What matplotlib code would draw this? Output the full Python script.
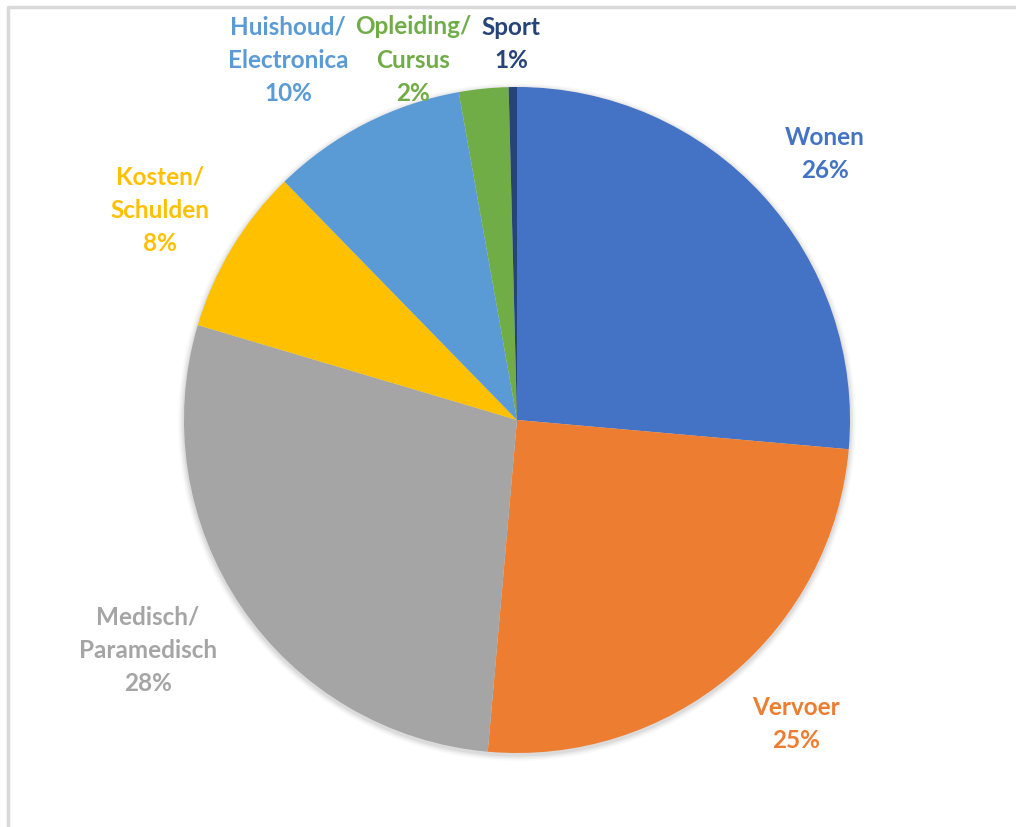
import matplotlib.pyplot as plt
from matplotlib.patches import Circle

# --- data ---
categories = ["Wonen", "Vervoer", "Medisch/\nParamedisch", "Kosten/\nSchulden",
              "Huishoud/\nElectronica", "Opleiding/\nCursus", "Sport"]
shares = [26.4, 25.0, 28.2, 8.1, 9.5, 2.4, 0.4]
pct_labels = ["26%", "25%", "28%", "8%", "10%", "2%", "1%"]
colors = ["#4472C4", "#ED7D31", "#A5A5A5", "#FFC000", "#5B9BD5", "#70AD47", "#264478"]

# label centres in pixel space (x right, y down from top)
label_pos = [(825, 154), (796, 724), (148, 650), (160, 210), (288, 60), (413, 60), (511, 44)]

W, H = 1016, 827
CX, CY, R = 517, 420, 333

fig = plt.figure(figsize=(W / 100, H / 100), dpi=100)
ax = fig.add_axes([0, 0, 1, 1])

# outer chart border (top and left visible)
ax.plot([7.5, 7.5, W + 10], [-10, H - 6.5, H - 6.5], color="#D9D9D9", lw=2.5, zorder=1)

# soft shadow behind the pie
for i, a in enumerate([0.05, 0.04, 0.03, 0.02]):
    ax.add_patch(Circle((CX, H - CY - 2), R + 1.5 + i * 1.5, color="black", alpha=a, lw=0, zorder=2))

ax.pie(shares, colors=colors, startangle=90, counterclock=False, radius=R,
       center=(CX, H - CY), frame=True,
       wedgeprops=dict(linewidth=0, zorder=3))
ax.set_xlim(0, W)
ax.set_ylim(0, H)
ax.set_aspect("equal")
ax.axis("off")

for name, pct, col, (x, y) in zip(categories, pct_labels, colors, label_pos):
    ax.text(x, H - y, f"{name}\n{pct}", ha="center", va="center", color=col,
            fontsize=17.5, fontweight="bold", family=["Lato", "DejaVu Sans"],
            linespacing=1.55, zorder=5)

fig.savefig("out.png", dpi=100)
